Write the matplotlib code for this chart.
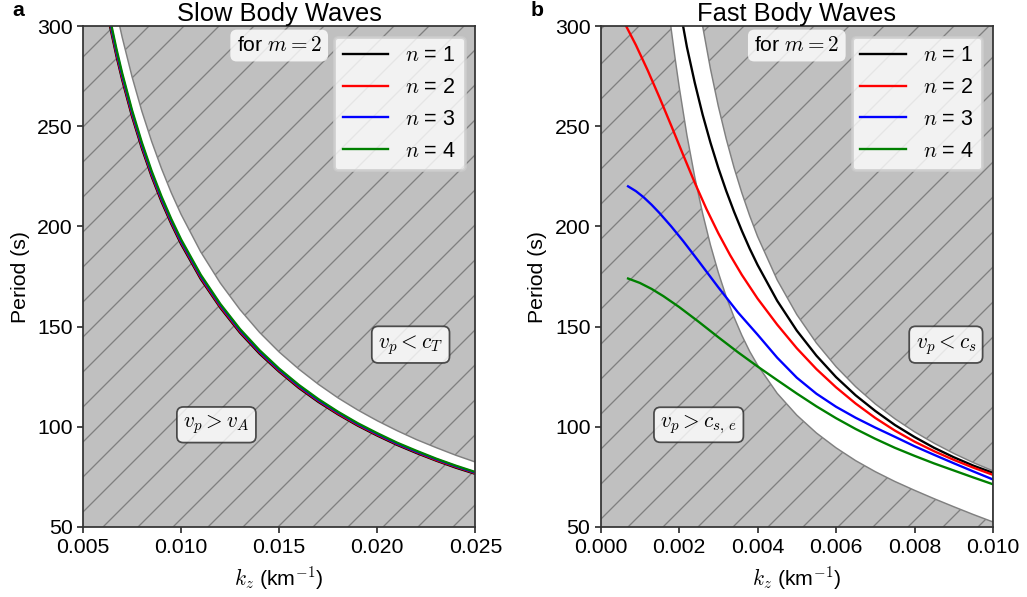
import numpy as np
import matplotlib
matplotlib.use('Agg')
import matplotlib.pyplot as plt

plt.rcParams['font.family'] = ['Liberation Sans', 'DejaVu Sans']
plt.rcParams['font.size'] = 7.3
plt.rcParams['mathtext.fontset'] = 'cm'
plt.rcParams['hatch.linewidth'] = 0.45
plt.rcParams['axes.edgecolor'] = '0.2'
plt.rcParams['axes.linewidth'] = 0.6
plt.rcParams['xtick.major.width'] = 0.6
plt.rcParams['ytick.major.width'] = 0.6
plt.rcParams['xtick.major.size'] = 2.0
plt.rcParams['ytick.major.size'] = 2.0
plt.rcParams['xtick.major.pad'] = 1.8
plt.rcParams['ytick.major.pad'] = 1.5
plt.rcParams['xtick.color'] = '0.2'
plt.rcParams['ytick.color'] = '0.2'
plt.rcParams['xtick.labelcolor'] = 'black'
plt.rcParams['ytick.labelcolor'] = 'black'

# ---- slow body waves (panel a) ----
kz_slow = [0.0050, 0.0055, 0.0060, 0.0063, 0.0067, 0.0070, 0.0075, 0.0080, 0.0085,
           0.0090, 0.0095, 0.0100, 0.0110, 0.0120, 0.0130, 0.0140, 0.0150, 0.0160,
           0.0170, 0.0180, 0.0190, 0.0200, 0.0210, 0.0220, 0.0230, 0.0240, 0.0250]
slow_n1 = [382.3, 347.6, 318.6, 303.4, 285.3, 273.1, 254.9, 239.0, 224.9, 212.4, 201.3,
           191.2, 173.8, 159.4, 147.0, 136.5, 127.5, 119.4, 112.4, 106.2, 100.6, 95.6,
           91.0, 86.9, 83.1, 79.6, 76.5]
slow_n2 = [383.9, 349.0, 319.9, 304.7, 286.5, 274.2, 255.9, 240.0, 225.8, 213.3, 202.1,
           192.0, 174.5, 160.0, 147.6, 137.1, 128.0, 119.9, 112.9, 106.6, 101.0, 96.0,
           91.4, 87.3, 83.4, 80.0, 76.8]
slow_n3 = [385.5, 350.4, 321.2, 305.9, 287.6, 275.3, 257.0, 240.9, 226.7, 214.1, 202.9,
           192.7, 175.2, 160.7, 148.2, 137.6, 128.5, 120.4, 113.3, 107.1, 101.4, 96.4,
           91.7, 87.6, 83.8, 80.3, 77.1]
slow_n4 = [387.0, 351.8, 322.5, 307.1, 288.8, 276.4, 258.0, 241.9, 227.6, 215.0, 203.7,
           193.5, 175.9, 161.3, 148.8, 138.2, 129.0, 120.9, 113.8, 107.5, 101.8, 96.8,
           92.1, 88.0, 84.1, 80.6, 77.4]
# v_p < c_T boundary
slow_upper = [412.0, 374.5, 343.3, 327.0, 307.5, 294.3, 274.7, 257.5, 242.4, 228.9, 216.8,
              206.0, 187.3, 171.7, 158.5, 147.1, 137.3, 128.8, 121.2, 114.4, 108.4, 103.0,
              98.1, 93.6, 89.6, 85.8, 82.4]

# ---- fast body waves (panel b) ----
kz_fast_b = [0.0017, 0.0018, 0.0019, 0.0020, 0.0022, 0.0024, 0.0026, 0.0028, 0.0030,
             0.0032, 0.0034, 0.0036, 0.0038, 0.0040, 0.0045, 0.0050, 0.0055, 0.0060,
             0.0065, 0.0070, 0.0075, 0.0080, 0.0085, 0.0090, 0.0095, 0.0100]
# v_p > c_s,e boundary
fast_lower = [314.7, 298.3, 283.7, 270.0, 245.5, 224.6, 206.5, 190.7, 177.0,
              165.0, 154.7, 145.6, 137.6, 130.8, 116.7, 105.8, 96.9, 89.5,
              83.1, 77.6, 72.7, 68.3, 64.1, 60.1, 56.2, 52.5]
# v_p < c_s boundary
fast_upper = [458.8, 433.3, 410.5, 390.0, 354.5, 325.0, 300.0, 278.6, 260.0,
              243.8, 229.4, 216.7, 205.3, 195.0, 173.3, 156.0, 141.8, 130.0,
              120.0, 111.4, 104.0, 97.5, 91.8, 86.7, 82.1, 78.0]

kz_f1 = [0.0020, 0.0022, 0.0024, 0.0026, 0.0028, 0.0030, 0.0032, 0.0034, 0.0036, 0.0038,
         0.0040, 0.0045, 0.0050, 0.0055, 0.0060, 0.0065, 0.0070, 0.0075, 0.0080, 0.0085,
         0.0090, 0.0095, 0.0100]
fast_n1 = [311.0, 289.5, 271.7, 255.8, 241.8, 229.2, 217.8, 207.4, 197.8, 188.9,
           180.8, 162.9, 148.0, 135.5, 124.8, 115.7, 107.9, 100.9, 94.9, 89.5,
           84.8, 80.6, 77.0]

kz_f2 = [0.00065, 0.0009, 0.0012, 0.0015, 0.0018, 0.0021, 0.0024, 0.0027, 0.0030,
         0.0033, 0.0036, 0.0040, 0.0045, 0.0050, 0.0055, 0.0060, 0.0065, 0.0070,
         0.0075, 0.0080, 0.0085, 0.0090, 0.0095, 0.0100]
fast_n2 = [300.0, 290.5, 277.9, 264.4, 250.3, 235.9, 221.8, 208.6, 196.6,
           185.7, 175.8, 164.0, 151.0, 139.2, 128.8, 119.7, 111.6, 104.4,
           98.1, 92.6, 87.8, 83.5, 79.6, 76.0]

kz_f3 = [0.0007, 0.0009, 0.0011, 0.0013, 0.0015, 0.0018, 0.0021, 0.0025, 0.0030,
         0.0035, 0.0040, 0.0045, 0.0050, 0.0055, 0.0060, 0.0065, 0.0070, 0.0075,
         0.0080, 0.0085, 0.0090, 0.0095, 0.0100]
fast_n3 = [220.0, 217.6, 214.5, 210.8, 206.7, 200.0, 192.8, 182.6, 169.6,
           157.1, 146.0, 134.5, 124.5, 116.5, 110.0, 104.5, 99.6, 95.0,
           90.3, 86.0, 81.8, 77.7, 73.7]

kz_f4 = [0.0007, 0.0010, 0.0013, 0.0016, 0.0020, 0.0025, 0.0030, 0.0035, 0.0040,
         0.0045, 0.0050, 0.0055, 0.0060, 0.0065, 0.0070, 0.0075, 0.0080, 0.0085,
         0.0090, 0.0095, 0.0100]
fast_n4 = [174.0, 171.8, 168.8, 165.2, 159.8, 152.4, 144.7, 137.2, 130.1,
           123.3, 116.6, 110.2, 104.3, 98.9, 94.0, 89.5, 85.5, 81.7,
           78.2, 74.7, 71.3]

colors = ['black', 'red', 'blue', 'green']
p_lim = (50, 300)


def draw_panel(ax, xlim, xticks, kz_band, band_low, band_high, curves, title,
               low_txt, low_pos, high_txt, high_pos):
    # hatched background = forbidden region, white band = allowed
    ax.axvspan(xlim[0], xlim[1], facecolor='silver', edgecolor='gray',
               hatch='//', lw=0, zorder=0)
    ax.fill_between(kz_band, band_low, band_high, facecolor='white',
                    edgecolor='gray', lw=0.5, zorder=1)
    for i, (kz, p) in enumerate(curves):
        ax.plot(kz, p, color=colors[i], lw=0.8, zorder=2,
                label='$n$ = {0}'.format(i + 1))

    ax.set_xlim(xlim)
    ax.set_ylim(p_lim)
    ax.set_xticks(xticks)
    ax.set_yticks([50, 100, 150, 200, 250, 300])
    ax.set_title(title, pad=1.5)
    ax.set_xlabel('$k_z$ (km$^{-1}$)', labelpad=2.5)
    ax.set_ylabel('Period (s)', labelpad=2.5)
    ax.legend(loc='upper right', fontsize=7.4, handlelength=2.1)

    ax.text(0.5, 0.961, 'for $m=2$', transform=ax.transAxes, ha='center',
            va='center', zorder=5,
            bbox=dict(boxstyle='round', facecolor='white', edgecolor='none', alpha=0.8))
    box = dict(boxstyle='round', facecolor='white', edgecolor='0.15', lw=0.6, alpha=0.8)
    ax.text(low_pos[0], low_pos[1], low_txt, ha='center', va='center', bbox=box, zorder=5)
    ax.text(high_pos[0], high_pos[1], high_txt, ha='center', va='center', bbox=box, zorder=5)


fig, (ax1, ax2) = plt.subplots(1, 2, figsize=(1027 / 210, 597 / 210), dpi=210)
fig.subplots_adjust(left=0.0808, right=0.9669, bottom=0.1173, top=0.9564, wspace=0.319)

draw_panel(ax1, (0.005, 0.025), [0.005, 0.010, 0.015, 0.020, 0.025],
           kz_slow, slow_n1, slow_upper,
           [(kz_slow, slow_n1), (kz_slow, slow_n2), (kz_slow, slow_n3), (kz_slow, slow_n4)],
           'Slow Body Waves',
           '$v_p > v_A$', (0.0118, 101), '$v_p < c_T$', (0.0217, 141))

draw_panel(ax2, (0.0, 0.010), [0.000, 0.002, 0.004, 0.006, 0.008, 0.010],
           kz_fast_b, fast_lower, fast_upper,
           [(kz_f1, fast_n1), (kz_f2, fast_n2), (kz_f3, fast_n3), (kz_f4, fast_n4)],
           'Fast Body Waves',
           '$v_p > c_{s,\\,e}$', (0.0025, 101), '$v_p < c_s$', (0.0088, 141))

fig.text(0.0175, 0.983, 'a', weight='bold', ha='center', va='center')
fig.text(0.5229, 0.983, 'b', weight='bold', ha='center', va='center')

fig.savefig('out.png', dpi=210)
